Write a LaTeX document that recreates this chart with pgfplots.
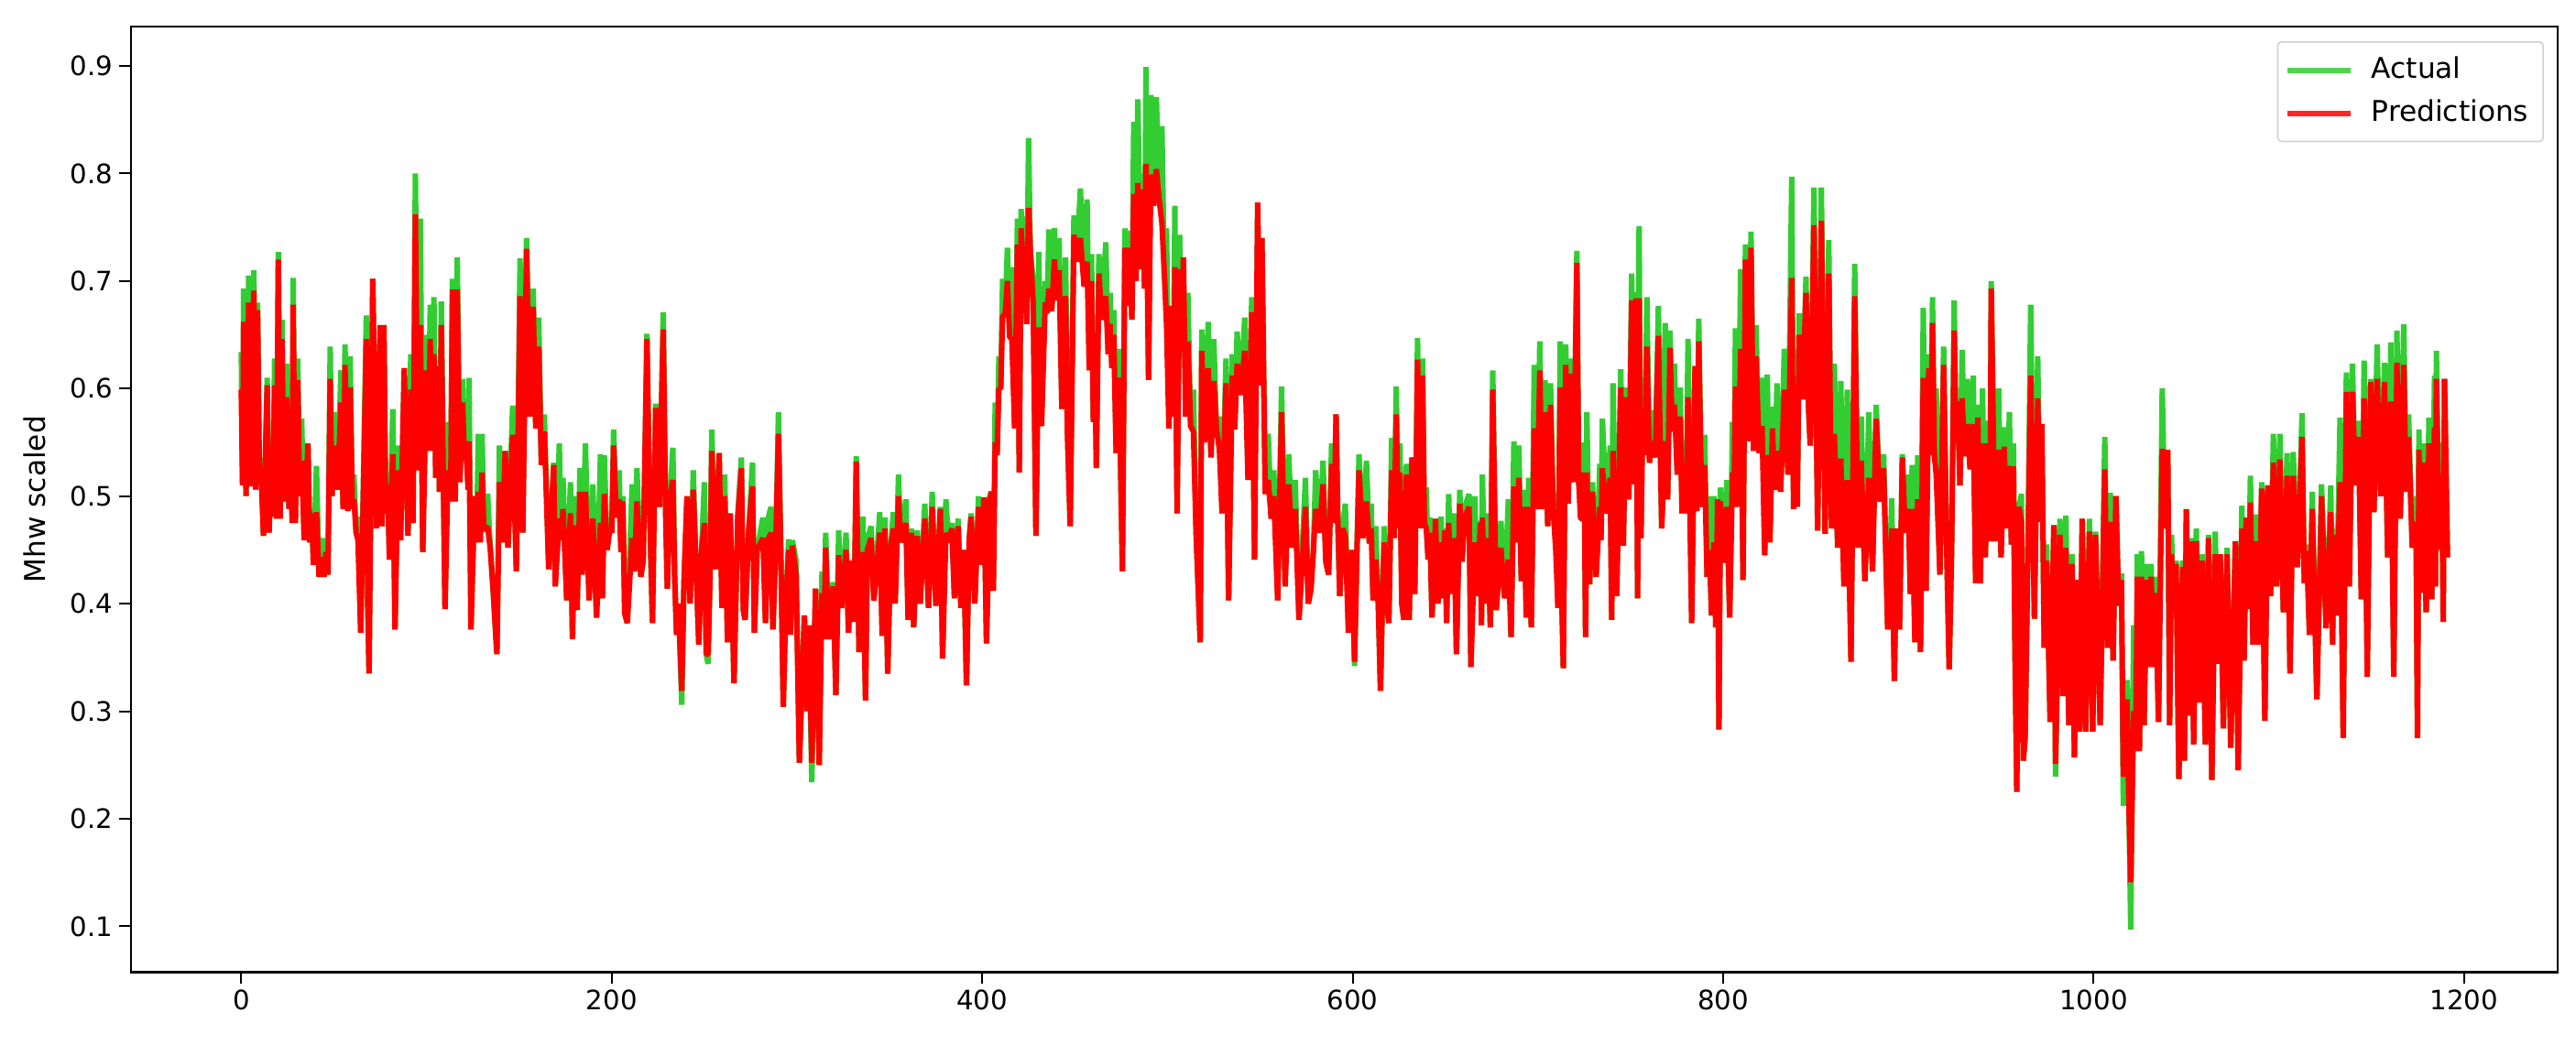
\documentclass[border=0pt]{standalone}
\usepackage{fontspec}
\setmainfont{DejaVu Sans}
\usepackage{pgfplots}
\usepackage{pgfplotstable}
\pgfplotsset{compat=1.18}
\definecolor{actual}{RGB}{50,205,50}
\pgfplotstableread{
x a p
0 .634 .599
0.7 .51 .51
1.3 .693 .662
2.6 .50 .50
4 .705 .680
5.4 .509 .509
6.8 .710 .691
7.8 .506 .506
8.8 .680 .673
9.8 .517 .517
10.8 .536 .517
12 .463 .463
14 .610 .603
15 .466 .466
16 .530 .517
17 .481 .481
18 .628 .603
19 .479 .479
20 .727 .720
21 .479 .479
22 .664 .646
23.2 .495 .495
24.5 .623 .592
25.8 .488 .488
27 .520 .510
27.5 .475 .475
28 .703 .678
29.2 .475 .475
30.5 .628 .608
31.5 .50 .50
32.6 .572 .533
34 .459 .459
36 .549 .549
37 .457 .457
38 .484 .484
39 .436 .436
40.6 .528 .485
42 .425 .425
43.7 .461 .443
44.7 .425 .425
45.7 .45 .448
46.8 .427 .427
48 .639 .609
49 .50 .50
50 .578 .547
52 .506 .506
53.8 .617 .587
55 .488 .488
56 .641 .622
57.5 .486 .486
58.8 .630 .601
60 .488 .488
60.8 .520 .497
62 .466 .466
63 .481 .459
64.5 .373 .373
67.5 .668 .646
68.3 .398 .398
69 .335 .335
71 .702 .702
73 .470 .470
75 .659 .659
76 .472 .472
77 .659 .659
78 .484 .484
79 .52 .511
80 .441 .441
81.8 .581 .539
83 .376 .376
84.6 .547 .524
86 .459 .459
88 .619 .619
90 .463 .463
91.5 .632 .599
92.7 .475 .475
94 .800 .762
95.4 .524 .524
96.7 .758 .659
98 .448 .448
100 .650 .617
101 .542 .542
102 .678 .646
103 .542 .542
104 .685 .632
105 .517 .517
106 .62 .621
107 .504 .504
108 .681 .659
110 .395 .395
111.6 .569 .524
113 .495 .495
114 .702 .692
115.5 .495 .495
116.6 .722 .692
118 .513 .513
119.5 .609 .587
120.5 .533 .533
121 .57 .551
122.5 .506 .506
123 .610 .551
124 .376 .376
126 .50 .50
127 .457 .457
128 .558 .504
129 .457 .457
130 .558 .522
131 .468 .468
133 .502 .472
134.5 .450 .450
136 .412 .412
138 .353 .353
139.4 .547 .513
140.8 .457 .457
142.5 .542 .542
144 .452 .452
146.5 .584 .557
148.5 .430 .430
150.5 .721 .686
152 .466 .466
154 .740 .730
155.8 .574 .574
157.6 .693 .676
159 .563 .563
160.6 .666 .639
162 .529 .529
163.6 .576 .560
166 .432 .432
168.7 .531 .529
169.5 .416 .416
171.7 .549 .479
172.7 .459 .459
173.7 .517 .488
175.7 .403 .403
177.7 .513 .484
178.8 .367 .367
180 .50 .473
181.3 .394 .394
182.8 .526 .504
184 .427 .427
185.8 .549 .504
187.8 .403 .403
189.8 .511 .479
191.8 .387 .387
193.9 .539 .475
195 .405 .405
196 .538 .502
197.5 .45 .45
198.9 .48 .468
200 .466 .466
201 .562 .547
202.5 .48 .48
204 .524 .497
205 .448 .448
206 .50 .495
207 .391 .391
208.4 .382 .382
211 .511 .461
212.3 .43 .43
213.6 .526 .495
215.7 .425 .425
217 .44 .44
219 .651 .646
220.5 .484 .484
222 .382 .382
223.7 .586 .582
225.7 .490 .490
227.8 .671 .655
229 .493 .493
230 .414 .414
231.5 .50 .50
233 .545 .515
234 .423 .423
235 .371 .371
236 .40 .40
237.8 .306 .319
239 .42 .42
240.6 .495 .500
242.3 .40 .40
244 .524 .506
245.5 .434 .434
247 .362 .362
248.5 .45 .45
250 .513 .475
251 .353 .353
252 .344 .353
253 .42 .42
254 .562 .542
256 .432 .432
258 .540 .540
259.5 .396 .396
261 .520 .50
262.5 .364 .364
264 .48 .484
266 .326 .326
268 .48 .48
270 .536 .526
271 .394 .394
272 .385 .385
274 .47 .47
276 .531 .509
277 .373 .373
278.5 .45 .45
281.6 .480 .461
283 .382 .382
284.5 .48 .46
286 .490 .466
287 .376 .376
288.5 .45 .45
290 .578 .558
291.3 .445 .445
292.6 .304 .304
294 .40 .40
295.5 .46 .45
296.5 .371 .371
297.5 .459 .454
299.5 .44 .427
301.3 .252 .252
304 .389 .389
305.5 .30 .30
306.5 .37 .38
308 .234 .252
310 .414 .414
312 .250 .250
313.5 .43 .41
314.5 .367 .367
315.5 .466 .452
317 .367 .367
319.5 .42 .416
321 .315 .315
322.5 .468 .445
324 .396 .396
326.5 .466 .450
327.8 .373 .373
329.6 .44 .44
330.8 .383 .383
332 .537 .532
333.5 .355 .355
335.6 .481 .448
337 .31 .31
338 .46 .45
340 .472 .461
341.5 .403 .403
344.7 .485 .466
346 .370 .370
347.5 .48 .47
349 .335 .335
350.5 .45 .45
352 .485 .47
353 .40 .40
354.8 .520 .500
356 .457 .457
358.8 .497 .475
360 .385 .385
361.8 .47 .466
363 .378 .378
364.9 .468 .463
366.5 .40 .40
369 .493 .479
371 .396 .396
373 .504 .490
375 .398 .398
377.4 .490 .488
378.6 .349 .349
380.4 .497 .466
381.8 .457 .457
383.6 .475 .470
385 .405 .405
387 .479 .472
388.5 .396 .396
390 .45 .45
391.5 .324 .324
393 .46 .46
394 .484 .481
396 .40 .40
398 .500 .490
399.5 .436 .436
401 .499 .499
402.3 .363 .363
404 .50 .495
405 .504 .504
406 .412 .412
407 .587 .55
408 .538 .538
409 .63 .60
410 .60 .60
411 .702 .668
412.3 .668 .668
413.6 .731 .700
414.8 .648 .648
416 .713 .646
417.5 .563 .563
419 .758 .734
420 .522 .522
421 .767 .749
422 .718 .718
423 .76 .700
424 .66 .66
425 .833 .768
426 .727 .727
427.5 .70 .68
429 .463 .463
430.5 .727 .657
432 .565 .565
434 .70 .68
435 .67 .67
436 .748 .693
437.5 .672 .672
439 .749 .720
440.3 .682 .682
441.5 .74 .71
443 .581 .581
445 .722 .686
446 .558 .558
447.5 .472 .472
449.5 .761 .743
451 .718 .718
453 .786 .740
455 .695 .695
456.6 .776 .718
457.8 .617 .617
459 .725 .70
460 .569 .569
461 .65 .60
461.6 .526 .526
463 .725 .707
464.5 .664 .664
466.7 .736 .686
468 .632 .632
469 .689 .66
470 .619 .619
471 .673 .65
472.3 .540 .540
473.7 .637 .610
474.7 .526 .526
475.7 .430 .430
477 .749 .731
478.3 .677 .677
479.8 .747 .731
480.8 .664 .664
481.8 .848 .781
483 .70 .70
484 .869 .791
485.5 .711 .711
486.8 .80 .785
487.6 .693 .693
488.4 .899 .809
489.8 .608 .608
491 .873 .799
492.5 .77 .77
494 .871 .804
495.5 .776 .776
497 .844 .754
498.3 .707 .707
499.5 .749 .659
500.8 .563 .563
502 .67 .677
503 .574 .574
504 .770 .713
505.2 .484 .484
506.6 .743 .711
507.6 .641 .641
508.6 .72 .722
509.8 .574 .574
511 .689 .644
512.5 .565 .565
514 .599 .560
515.5 .463 .463
517.7 .364 .364
518.5 .655 .635
520 .55 .55
522 .662 .619
523.5 .536 .536
525 .646 .607
526.5 .562 .562
528 .574 .544
529.5 .484 .484
531.6 .628 .605
533 .403 .403
535 .632 .612
536.3 .562 .562
537.6 .653 .623
539.5 .594 .594
541.7 .666 .635
543.5 .515 .515
545.5 .685 .671
547 .441 .441
548.7 .773 .773
550 .603 .603
551 .74 .740
552 .603 .603
552.8 .502 .502
554.4 .558 .515
556 .479 .479
557.4 .524 .500
559.5 .403 .403
561.6 .602 .578
563.5 .416 .416
565.5 .539 .511
567.3 .452 .452
569 .515 .488
571 .385 .385
574.5 .517 .490
576 .40 .40
577.5 .414 .414
578.8 .45 .45
580 .524 .488
582 .466 .466
584 .533 .511
585.5 .439 .439
587 .427 .427
588.6 .549 .53
590 .475 .475
591 .576 .576
592 .475 .475
593 .407 .407
594.5 .47 .47
596 .493 .463
597.7 .373 .373
599.5 .45 .45
601 .342 .346
602.3 .45 .45
603.4 .539 .524
605.4 .461 .461
607.4 .533 .495
609 .456 .456
610 .493 .470
611 .403 .403
612.4 .472 .441
613.8 .40 .40
615 .319 .319
616 .40 .40
617 .472 .457
618.3 .40 .40
619.5 .382 .382
620.3 .46 .46
621 .554 .524
622.3 .461 .461
623.5 .602 .576
624.6 .47 .47
625.5 .549 .522
626.5 .40 .40
627.6 .385 .385
629 .53 .520
630.5 .385 .385
632 .536 .536
633.5 .409 .409
635 .647 .627
636.3 .470 .470
637.7 .628 .612
638.7 .475 .475
639.7 .508 .47
640.7 .441 .441
641.7 .48 .466
642.8 .387 .387
644.7 .479 .479
646 .400 .400
647.7 .481 .457
648.8 .405 .405
649.7 .47 .468
650.7 .382 .382
651.8 .502 .475
653 .409 .409
654.8 .484 .461
656 .353 .353
657.8 .506 .493
659 .439 .439
660.5 .49 .48
662.8 .502 .490
663.8 .341 .341
665.9 .50 .457
667.4 .407 .407
668.9 .477 .475
669.5 .380 .380
670 .520 .48
671.5 .40 .40
673 .484 .461
674.3 .378 .378
675.6 .617 .599
677.5 .394 .394
680 .477 .452
682 .405 .405
684 .497 .441
685.5 .369 .369
687 .551 .509
688.3 .457 .457
689.7 .547 .517
691 .421 .421
692.5 .506 .490
693.7 .387 .387
695 .517 .490
696.4 .378 .378
698 .622 .563
699.5 .488 .488
701 .644 .617
702.4 .488 .488
703.8 .608 .578
705.3 .472 .472
706.8 .605 .585
708.2 .488 .488
709.6 .502 .45
710.8 .396 .396
712 .644 .601
713 .394 .394
713.7 .340 .340
715 .641 .622
716.3 .493 .493
717.7 .628 .614
719.3 .513 .513
721 .728 .717
722 .513 .513
723 .50 .479
724 .479 .479
725 .55 .522
725.7 .369 .369
726.4 .578 .522
727.9 .418 .418
729.4 .513 .504
731.4 .425 .425
733.4 .53 .49
734 .459 .459
734.8 .572 .526
736.9 .484 .484
739 .547 .517
739.8 .385 .385
740.5 .605 .542
742.5 .407 .407
744.7 .618 .601
746.1 .454 .454
747.5 .601 .592
749 .497 .497
750.6 .707 .682
751.8 .511 .511
753 .69 .684
753.8 .405 .405
754.6 .751 .684
755.6 .461 .461
756.6 .60 .574
757.7 .538 .538
758.8 .685 .639
760.2 .531 .531
761.6 .58 .551
763.3 .536 .536
765 .677 .649
766.8 .470 .470
768.7 .661 .551
770 .497 .497
771.3 .654 .638
772.5 .560 .560
773.7 .623 .585
775.2 .520 .520
776.8 .601 .574
777.8 .484 .484
778.8 .54 .515
780 .484 .484
781 .646 .592
783 .382 .382
784.8 .621 .621
785.8 .486 .486
786.8 .665 .644
788.4 .490 .490
790 .557 .529
791.3 .425 .425
792.5 .50 .45
793.7 .389 .389
795 .50 .457
796 .378 .378
797 .497 .497
797.7 .283 .283
798.5 .508 .495
800.2 .438 .438
802 .515 .490
803.5 .387 .387
805 .569 .522
805.8 .490 .490
806.6 .656 .602
808 .490 .490
809.4 .711 .637
810.7 .422 .422
812 .734 .720
813.5 .551 .551
815 .746 .731
816.4 .542 .542
817.7 .659 .630
819.4 .540 .540
821 .610 .565
822.4 .445 .445
823.8 .613 .538
825.2 .457 .457
826.6 .583 .563
827.8 .506 .506
829 .605 .542
831 .504 .504
833 .637 .599
835 .520 .520
837 .797 .703
838 .488 .488
839 .637 .603
840 .490 .490
841 .67 .65
842.8 .59 .59
844.7 .704 .689
846 .585 .585
847 .547 .547
849 .787 .752
851 .468 .468
853 .787 .756
855 .465 .465
857 .738 .707
858.5 .470 .470
860 .623 .558
861.8 .452 .452
863.5 .607 .535
865.2 .416 .416
867 .599 .515
869 .346 .346
871 .716 .686
872.8 .452 .452
874.5 .574 .533
876.5 .421 .421
878.6 .578 .517
880.6 .430 .430
882.6 .585 .572
884.6 .495 .495
886.6 .539 .526
888.8 .376 .376
891 .498 .470
892.4 .328 .328
893.7 .47 .470
895.2 .376 .376
896.7 .539 .536
898.3 .466 .466
900 .52 .488
901 .409 .409
902 .529 .488
903.5 .364 .364
905 .538 .497
906.5 .355 .355
908 .675 .610
909.5 .412 .412
911 .632 .619
912 .538 .538
913 .685 .661
914 .538 .538
915 .60 .520
917 .427 .427
919 .639 .622
920.5 .464 .464
922 .339 .339
923.3 .45 .45
924.7 .682 .654
925.7 .55 .55
926.6 .59 .588
927.8 .510 .510
929 .636 .591
930.3 .537 .537
931.7 .609 .567
933.3 .525 .525
935 .612 .567
936.3 .419 .419
937.5 .585 .573
938.8 .419 .419
940 .600 .549
941.5 .443 .443
943 .57 .549
944 .458 .458
944.7 .700 .693
946.7 .458 .458
948.7 .600 .543
950 .443 .443
951.7 .564 .546
953 .470 .470
954.5 .578 .528
955.6 .455 .455
956.7 .549 .528
957.5 .359 .359
958.5 .225 .225
959.7 .49 .49
961 .502 .476
962 .254 .254
963 .275 .275
964.5 .45 .45
966 .678 .612
968 .386 .386
969.8 .63 .591
971 .476 .476
972 .567 .567
973.3 .359 .359
974.6 .455 .440
976.5 .290 .290
978.5 .473 .473
979.4 .239 .251
981.8 .479 .464
983.4 .314 .314
985 .482 .452
986.6 .287 .287
988.3 .446 .437
989.6 .257 .257
991 .42 .422
992.4 .281 .281
993.8 .479 .479
995.7 .281 .281
997.7 .479 .467
999.5 .281 .281
1001 .467 .464
1003.5 .287 .287
1006 .555 .525
1007.5 .359 .359
1009 .503 .476
1010.5 .347 .347
1012 .500 .500
1013.5 .398 .398
1015 .428 .422
1016 .212 .239
1018 .329 .311
1019 .215 .215
1020 .097 .141
1021.6 .380 .30
1022.6 .263 .263
1023.6 .446 .425
1024.7 .263 .263
1025.8 .449 .425
1027.2 .287 .287
1028.6 .437 .422
1029.8 .341 .341
1031 .437 .425
1032.2 .341 .341
1033.4 .425 .410
1035 .290 .290
1037 .600 .544
1038.5 .470 .470
1040 .54 .543
1041 .287 .287
1042 .464 .446
1043.3 .392 .392
1044.5 .440 .437
1046 .237 .237
1048 .44 .434
1049 .254 .254
1050 .488 .488
1051.3 .296 .296
1052.6 .461 .458
1054 .269 .269
1055.4 .470 .458
1057 .308 .308
1058.5 .446 .440
1060.3 .269 .269
1062 .464 .461
1063.8 .236 .236
1065.6 .467 .446
1067 .344 .344
1068.3 .446 .446
1070 .284 .284
1072 .452 .446
1074 .266 .266
1076.5 .458 .458
1078 .245 .245
1080 .491 .470
1081.2 .347 .347
1082.4 .480 .480
1083.5 .395 .395
1084.6 .519 .494
1086 .362 .362
1087.5 .483 .458
1089 .362 .362
1090.7 .513 .507
1092.4 .291 .291
1094 .510 .510
1095.5 .407 .407
1097 .558 .531
1098.7 .416 .416
1100.5 .558 .534
1102.4 .392 .392
1104.4 .540 .519
1106 .335 .335
1107.7 .541 .519
1110 .434 .434
1112.5 .577 .555
1113.7 .419 .419
1115 .455 .449
1116.5 .371 .371
1118 .504 .488
1120.5 .311 .311
1123 .511 .500
1125.5 .377 .377
1128 .510 .485
1129 .362 .362
1129.5 .470 .464
1131 .389 .389
1133 .573 .513
1134.7 .275 .275
1136.4 .615 .597
1138 .416 .416
1139.7 .623 .597
1141.3 .510 .510
1143 .570 .555
1144.5 .404 .404
1146 .626 .591
1147.7 .332 .332
1149.5 .609 .606
1151.3 .485 .485
1153 .641 .609
1155 .500 .500
1157 .624 .606
1158.7 .443 .443
1160.4 .643 .588
1162 .332 .332
1163.7 .654 .624
1165.5 .479 .479
1167.4 .660 .622
1168.7 .504 .504
1170 .576 .555
1172 .452 .452
1174 .50 .476
1174.8 .275 .275
1175.6 .562 .543
1176.8 .410 .410
1178 .549 .531
1179.5 .392 .392
1181 .573 .549
1182.5 .404 .404
1184 .612 .564
1184.5 .416 .416
1185 .635 .609
1186.5 .45 .45
1188 .55 .52
1188.7 .383 .383
1189.4 .609 .609
1191 .443 .443
}\series
\begin{document}
\begin{tikzpicture}
\begin{axis}[
  scale only axis, width=662pt, height=258pt,
  xmin=-59.5, xmax=1250.5, ymin=0.0574, ymax=0.9366,
  xtick={0,200,...,1200}, ytick={0.1,0.2,...,0.9},
  tick align=outside, tick pos=left,
  major tick length=3.25pt,
  axis line style={line width=0.6pt}, tick style={line width=0.5pt,black},
  /pgf/number format/assume math mode=true,
  /pgf/number format/1000 sep={},
  yticklabel style={/pgf/number format/fixed,/pgf/number format/precision=1,/pgf/number format/fixed zerofill},
  ticklabel style={font=\fontsize{7.3}{9}\selectfont},
  tick label style={inner sep=1.5pt},
  ylabel={Mhw scaled},
  every axis y label/.style={at={(axis description cs:-0.0396,0.5)},rotate=90,anchor=center,font=\fontsize{7.8}{9}\selectfont},
  legend style={at={(0.9943,0.9845)},anchor=north east,font=\fontsize{7.8}{9}\selectfont,
    draw=black!18,rounded corners=1pt,fill=white,fill opacity=0.8,text opacity=1,
    inner sep=2pt,row sep=0.3pt,/tikz/column 1/.style={column sep=3pt}},
  legend cell align=left,
  legend image post style={opacity=0.85},
]
\addplot[color=actual,line width=1.5pt,line join=bevel] table[x=x,y=a]{\series};
\addlegendentry{Actual}
\addplot[color=red,line width=1.5pt,line join=bevel] table[x=x,y=p]{\series};
\addlegendentry{Predictions}
\end{axis}
\pgfresetboundingbox
\path[use as bounding box] (-35.75pt,-19.75pt) rectangle (667pt,265.25pt);
\end{tikzpicture}
\end{document}
